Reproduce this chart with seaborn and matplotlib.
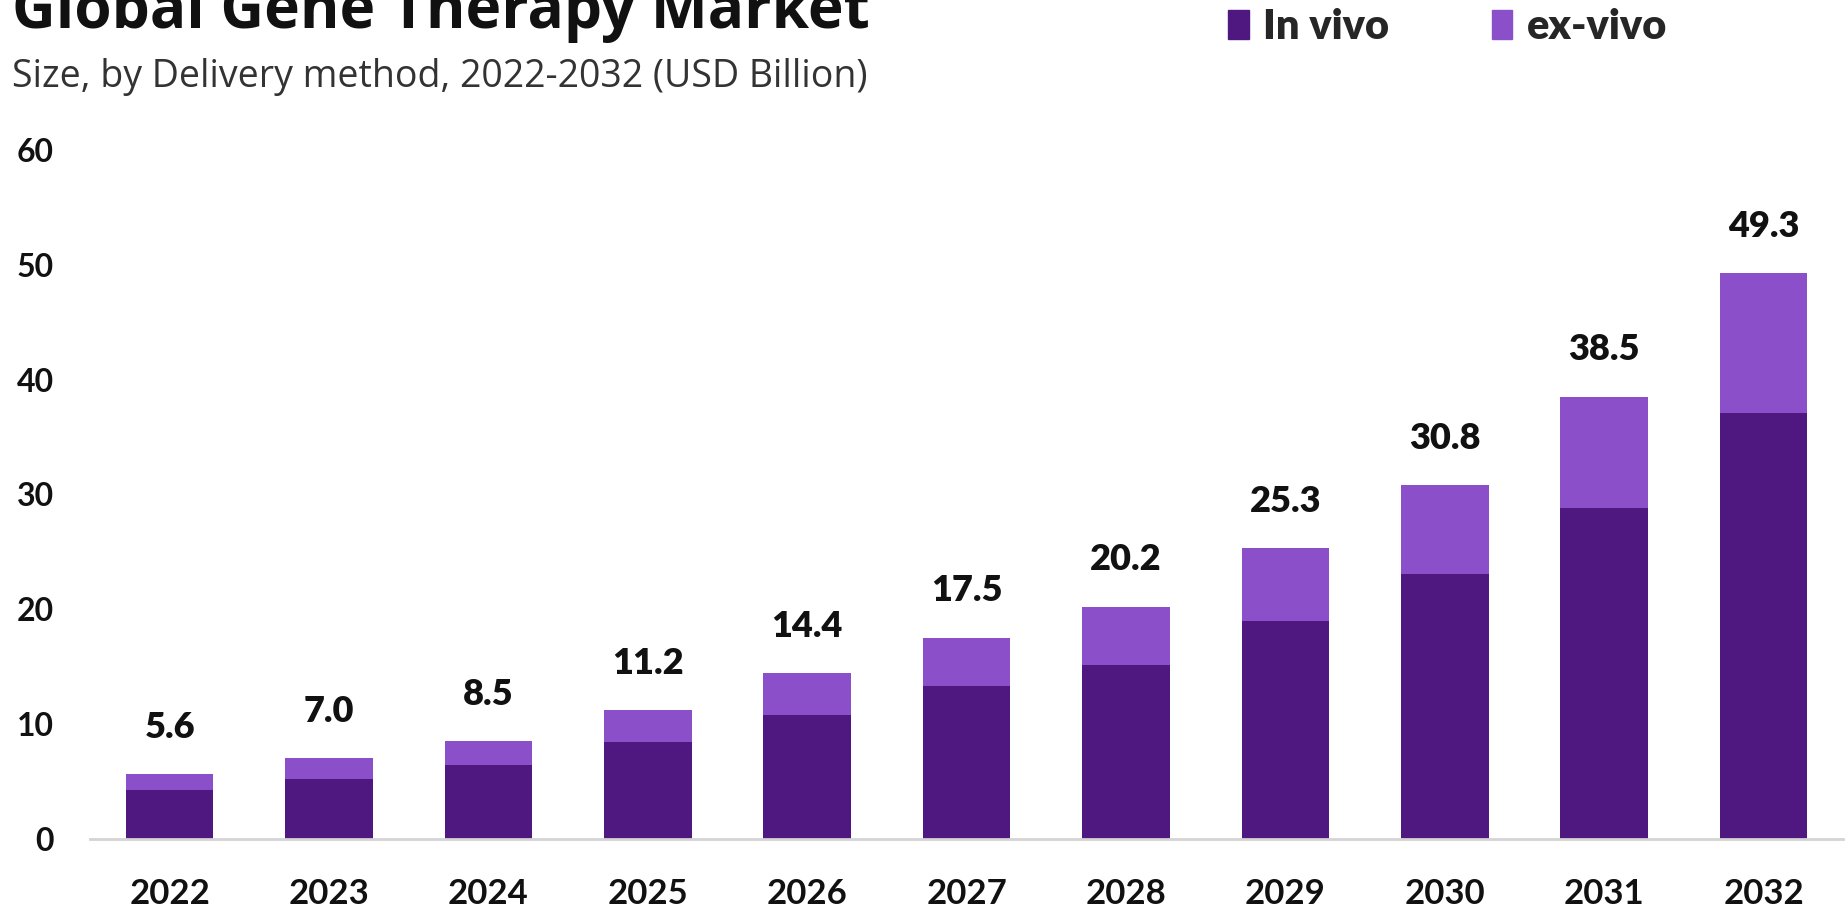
import matplotlib
matplotlib.use("Agg")
import matplotlib.pyplot as plt
import seaborn as sns
import pandas as pd
from matplotlib.patches import Patch

# --- data (USD Billion) ---
years = ['2022', '2023', '2024', '2025', '2026', '2027', '2028', '2029', '2030', '2031', '2032']
in_vivo = [4.2, 5.2, 6.4, 8.4, 10.8, 13.3, 15.1, 19.0, 23.1, 28.8, 37.1]
ex_vivo = [1.4, 1.8, 2.1, 2.8, 3.6, 4.2, 5.1, 6.3, 7.7, 9.7, 12.2]

c_in = '#4f1880'
c_ex = '#8b4fca'

df = pd.DataFrame({'Year': years, 'In vivo': in_vivo, 'ex-vivo': ex_vivo})
df['Total'] = (df['In vivo'] + df['ex-vivo']).round(1)

sns.set_theme(style="white")
plt.rcParams['font.family'] = ['Lato', 'DejaVu Sans']

fig = plt.figure(figsize=(18.47, 9.08), dpi=100)
ax = fig.add_axes([0.0487, 0.0764, 0.9493, 0.758])

# stacked bars: total first (ex-vivo colour), in vivo drawn over it
sns.barplot(data=df, x='Year', y='Total', color=c_ex, width=0.55, saturation=1,
            linewidth=0, ax=ax)
sns.barplot(data=df, x='Year', y='In vivo', color=c_in, width=0.55, saturation=1,
            linewidth=0, ax=ax)

# totals above bars
for i, tot in enumerate(df['Total']):
    ax.annotate(f'{tot:.1f}', xy=(i, tot), xytext=(0, 22), textcoords='offset points',
                ha='center', va='bottom', fontsize=26, fontweight='heavy', color='#111111')

ax.set_ylim(0, 60)
ax.set_yticks(range(0, 61, 10))
ax.set_xlim(-0.5, len(years) - 0.5)
ax.set_xlabel('')
ax.set_ylabel('')
for s in ['top', 'right', 'left']:
    ax.spines[s].set_visible(False)
ax.spines['bottom'].set_color('#d4d4d4')
ax.spines['bottom'].set_linewidth(2)
ax.tick_params(axis='y', length=0, pad=26, labelsize=23)
ax.tick_params(axis='x', length=0, pad=28, labelsize=25)
for lab in ax.get_xticklabels() + ax.get_yticklabels():
    lab.set_fontweight('bold')
    lab.set_color('#111111')

# title / subtitle
fig.text(0.0065, 1 - 28 / 908, 'Global Gene Therapy Market', fontsize=43.5, fontweight='bold',
         family=['Open Sans', 'DejaVu Sans'], ha='left', va='baseline', color='#111111')
fig.text(0.0065, 1 - 77 / 908, 'Size, by Delivery method, 2022-2032 (USD Billion)', fontsize=27,
         family=['Open Sans', 'DejaVu Sans'], ha='left', va='center', color='#333333')

handles = [Patch(color=c_in, label='In vivo'), Patch(color=c_ex, label='ex-vivo')]
fig.legend(handles=handles, loc='center left', bbox_to_anchor=(1228 / 1847, 1 - 27 / 908),
           ncol=2, frameon=False, borderpad=0, borderaxespad=0, handlelength=0.5,
           handleheight=0.7, handletextpad=0.35, columnspacing=2.45,
           prop={'weight': 'heavy', 'size': 30})

fig.savefig('out.png', dpi=100)
